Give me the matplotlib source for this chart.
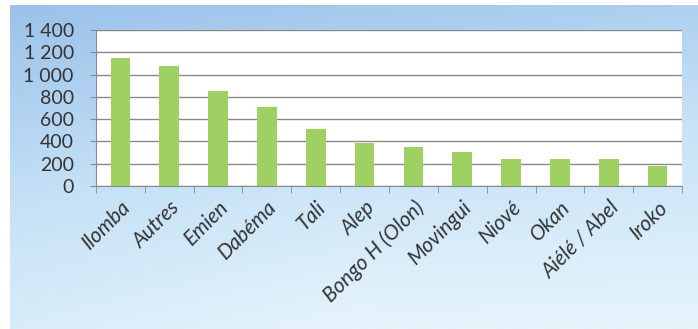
import matplotlib
matplotlib.use("Agg")
import matplotlib.pyplot as plt
import numpy as np
from matplotlib.colors import LinearSegmentedColormap

species = ["Ilomba", "Autres", "Emien", "Dabéma", "Tali", "Alep",
           "Bongo H (Olon)", "Movingui", "Niové", "Okan", "Aiélé / Abel", "Iroko"]
volumes = [1150, 1080, 850, 710, 515, 390, 350, 305, 245, 240, 240, 180]
y_ticks = [0, 200, 400, 600, 800, 1000, 1200, 1400]

plt.rcParams["font.family"] = ["Lato", "DejaVu Sans"]

fig = plt.figure(figsize=(6.98, 3.29), dpi=100)
fig.patch.set_facecolor("white")

# blue gradient background of the chart frame
bg = fig.add_axes([10 / 698, 0, 1 - 10 / 698, 1 - 5 / 329], zorder=0)
yy = np.linspace(0, 1, 200)[:, None]
xx = np.linspace(0, 1, 300)[None, :]
grad = np.clip(0.7 * yy + 0.2 * xx + 0.1 * (1 - np.abs(xx - 0.5) * 2) * yy, 0, 1)
cmap = LinearSegmentedColormap.from_list("bgblue", ["#9cc2ea", "#c6e2f6", "#e6f4fc"])
bg.imshow(grad, cmap=cmap, aspect="auto", extent=[0, 1, 0, 1], origin="upper")
bg.axis("off")

ax = fig.add_axes([96 / 698, 1 - 186 / 329, 586 / 698, 156 / 329], zorder=1)
ax.set_facecolor("white")

x = np.arange(len(species))
ax.bar(x, volumes, width=0.4, color="#9ed162", zorder=3)

ax.set_ylim(0, 1400)
ax.set_xlim(-0.5, len(species) - 0.5)
ax.set_yticks(y_ticks)
ax.set_yticklabels([f"{v:,}".replace(",", " ") for v in y_ticks], fontsize=14, color="#333333")
ax.yaxis.grid(True, color="#8a8a8a", linewidth=1.0, zorder=1)

ax.set_xticks(x)
ax.set_xticklabels(species, rotation=45, ha="right", rotation_mode="anchor",
                   fontsize=15, style="italic", color="#333333")
ax.set_xticks(np.arange(-0.5, len(species), 1), minor=True)
ax.tick_params(axis="x", which="major", length=0, pad=8)
ax.tick_params(axis="x", which="minor", length=5, color="#8a8a8a", direction="out")
ax.tick_params(axis="y", length=4, color="#8a8a8a", pad=12)

for side in ["top", "right"]:
    ax.spines[side].set_visible(False)
for side in ["left", "bottom"]:
    ax.spines[side].set_color("#8a8a8a")

fig.savefig("out.png", dpi=100, facecolor=fig.get_facecolor())
